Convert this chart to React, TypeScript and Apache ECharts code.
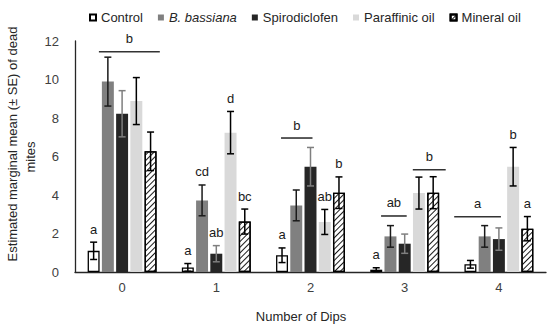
import React, { useEffect, useRef } from "react";
import * as echarts from "echarts";

const categories = ["0", "1", "2", "3", "4"];
const treatments = ["Control", "B. bassiana", "Spirodiclofen", "Paraffinic oil", "Mineral oil"];

const controlMean = [1.1, 0.24, 0.87, 0.12, 0.4];
const controlSE = [0.45, 0.2, 0.38, 0.1, 0.2];
const bassianaMean = [9.89, 3.72, 3.46, 1.85, 1.85];
const bassianaSE = [1.27, 0.8, 0.8, 0.56, 0.56];
const spiroMean = [8.22, 0.95, 5.47, 1.47, 1.71];
const spiroSE = [1.2, 0.42, 1.0, 0.5, 0.58];
const paraffinicMean = [8.88, 7.24, 2.6, 4.1, 5.47];
const paraffinicSE = [1.22, 1.1, 0.65, 0.83, 1.0];
const mineralMean = [6.27, 2.62, 4.12, 4.12, 2.25];
const mineralSE = [1.0, 0.65, 0.82, 0.83, 0.63];

// significance letters per bar (null = covered by a group line)
const controlLetters = ["a", "a", "a", "a", null];
const bassianaLetters = [null, "cd", null, null, null];
const spiroLetters = [null, "ab", null, null, null];
const paraffinicLetters = [null, "d", "ab", null, "b"];
const mineralLetters = [null, "bc", "b", null, "a"];

// group significance lines: category, span (in bar-index units), height (value), letter
const groupLineCat = [0, 2, 3, 3, 4];
const groupLineSpan = [[0.37, 4.65], [-0.07, 2.14], [0.34, 2.14], [2.57, 4.88], [-1.14, 2.14]];
const groupLineValue = [11.44, 6.96, 2.91, 5.31, 2.87];
const groupLineLabel = ["b", "b", "ab", "b", "a"];

const yTicksMax = 12;
const yTicksInterval = 2;

const BAR_W = 0.127;
const BAR_GAP = 0.19;
const FONT = "Liberation Sans, Arial, sans-serif";

export default function App() {
  const ref = useRef<HTMLDivElement>(null);
  useEffect(() => {
    document.body.style.margin = "0";
    if (!ref.current) return;
    const chart = echarts.init(ref.current, null, { renderer: "svg" });

    const means = [controlMean, bassianaMean, spiroMean, paraffinicMean, mineralMean];
    const ses = [controlSE, bassianaSE, spiroSE, paraffinicSE, mineralSE];
    const letters = [controlLetters, bassianaLetters, spiroLetters, paraffinicLetters, mineralLetters];

    const itemStyles: any[] = [
      { color: "#ffffff", borderColor: "#000000", borderWidth: 1.3 },
      { color: "#808080" },
      { color: "#262626" },
      { color: "#d9d9d9" },
      {
        color: "#ffffff",
        borderColor: "#000000",
        borderWidth: 1.3,
        decal: {
          symbol: "rect",
          symbolSize: 1,
          dashArrayX: [1, 0],
          dashArrayY: [1, 2.6],
          rotation: -Math.PI / 4,
          color: "#1a1a1a",
        },
      },
    ];
    const errColors = ["#000000", "#1a1a1a", "#7f7f7f", "#000000", "#000000"];

    const offsetFor = (api: any, idx: number) => {
      const band = api.size([1, 0])[0];
      const bw = band * BAR_W;
      const step = bw * (1 + BAR_GAP);
      return (idx - 2) * step;
    };

    const barSeries = treatments.map((name, i) => ({
      name,
      type: "bar",
      barWidth: BAR_W * 100 + "%",
      barGap: BAR_GAP * 100 + "%",
      data: means[i],
      itemStyle: itemStyles[i],
      z: 2,
    }));

    const errSeries = treatments.map((name, i) => ({
      type: "custom",
      name: name + " SE",
      z: 5,
      data: means[i].map((m, c) => [c, m, ses[i][c]]),
      renderItem: (params: any, api: any) => {
        const c = api.value(0);
        const v = api.value(1);
        const se = api.value(2);
        const x = api.coord([c, v])[0] + offsetFor(api, i);
        const yT = api.coord([c, v + se])[1];
        const yB = api.coord([c, Math.max(0, v - se)])[1];
        const cap = 3.5;
        const style = { stroke: errColors[i], lineWidth: 1.5 };
        return {
          type: "group",
          children: [
            { type: "line", shape: { x1: x, y1: yT, x2: x, y2: yB }, style },
            { type: "line", shape: { x1: x - cap, y1: yT, x2: x + cap, y2: yT }, style },
            { type: "line", shape: { x1: x - cap, y1: yB, x2: x + cap, y2: yB }, style },
          ],
        };
      },
    }));

    // single letters
    const letterItems: any[] = [];
    letters.forEach((arr, i) =>
      arr.forEach((l, c) => {
        if (l) letterItems.push({ value: [c, means[i][c] + ses[i][c]], bar: i, label: l });
      })
    );
    const letterSeries = {
      type: "custom",
      name: "letters",
      z: 6,
      data: letterItems.map((d) => d.value),
      renderItem: (params: any, api: any) => {
        const d = letterItems[params.dataIndex];
        const pt = api.coord([d.value[0], d.value[1]]);
        return {
          type: "text",
          style: {
            x: pt[0] + offsetFor(api, d.bar),
            y: pt[1] - 13,
            text: d.label,
            textAlign: "center",
            textVerticalAlign: "middle",
            fill: "#1a1a1a",
            font: `13px ${FONT}`,
          },
        };
      },
    };

    const groupSeries = {
      type: "custom",
      name: "groups",
      z: 6,
      data: groupLineCat.map((c, k) => [c, groupLineValue[k]]),
      renderItem: (params: any, api: any) => {
        const k = params.dataIndex;
        const c = api.value(0);
        const v = api.value(1);
        const pt = api.coord([c, v]);
        const x1 = pt[0] + offsetFor(api, groupLineSpan[k][0]);
        const x2 = pt[0] + offsetFor(api, groupLineSpan[k][1]);
        return {
          type: "group",
          children: [
            {
              type: "line",
              shape: { x1, y1: pt[1], x2, y2: pt[1] },
              style: { stroke: "#333333", lineWidth: 1.6 },
            },
            {
              type: "text",
              style: {
                x: (x1 + x2) / 2,
                y: pt[1] - 13,
                text: groupLineLabel[k],
                textAlign: "center",
                textVerticalAlign: "middle",
                fill: "#1a1a1a",
                font: `13px ${FONT}`,
              },
            },
          ],
        };
      },
    };

    chart.setOption({
      animation: false,
      textStyle: { fontFamily: FONT },
      legend: {
        left: 84,
        top: 6,
        itemWidth: 6,
        itemHeight: 6,
        itemGap: 15,
        icon: "rect",
        textStyle: { fontSize: 13, color: "#262626", fontFamily: FONT },
        data: treatments.map((t) =>
          t === "B. bassiana" ? { name: t, textStyle: { fontStyle: "italic" } } : { name: t }
        ),
      },
      grid: { left: 75, right: 4, top: 41, bottom: 59, containLabel: false, outerBoundsMode: "none" },
      xAxis: {
        type: "category",
        data: categories,
        axisTick: { show: false },
        axisLine: { lineStyle: { color: "#262626", width: 1.3 } },
        axisLabel: { fontSize: 13, color: "#404040", margin: 9 },
        name: "Number of Dips",
        nameLocation: "middle",
        nameGap: 38,
        nameTextStyle: { fontSize: 13, color: "#262626", padding: [0, 19, 0, 0] },
      },
      yAxis: {
        type: "value",
        min: 0,
        max: yTicksMax,
        interval: yTicksInterval,
        splitLine: { show: false },
        axisTick: { show: false },
        axisLine: { show: true, lineStyle: { color: "#262626", width: 1.3 } },
        axisLabel: { fontSize: 13, color: "#404040", margin: 16 },
      },
      graphic: [
        {
          type: "text",
          x: 12,
          y: 144,
          rotation: Math.PI / 2,
          style: {
            text: "Estimated marginal mean (± SE) of dead",
            textAlign: "center",
            textVerticalAlign: "middle",
            fill: "#262626",
            font: `13px ${FONT}`,
          },
        },
        {
          type: "text",
          x: 30,
          y: 157,
          rotation: Math.PI / 2,
          style: {
            text: "mites",
            textAlign: "center",
            textVerticalAlign: "middle",
            fill: "#262626",
            font: `13px ${FONT}`,
          },
        },
      ],
      series: [...barSeries, ...errSeries, letterSeries, groupSeries],
    });
    return () => chart.dispose();
  }, []);
  return <div ref={ref} style={{ width: 550, height: 331 }} />;
}
